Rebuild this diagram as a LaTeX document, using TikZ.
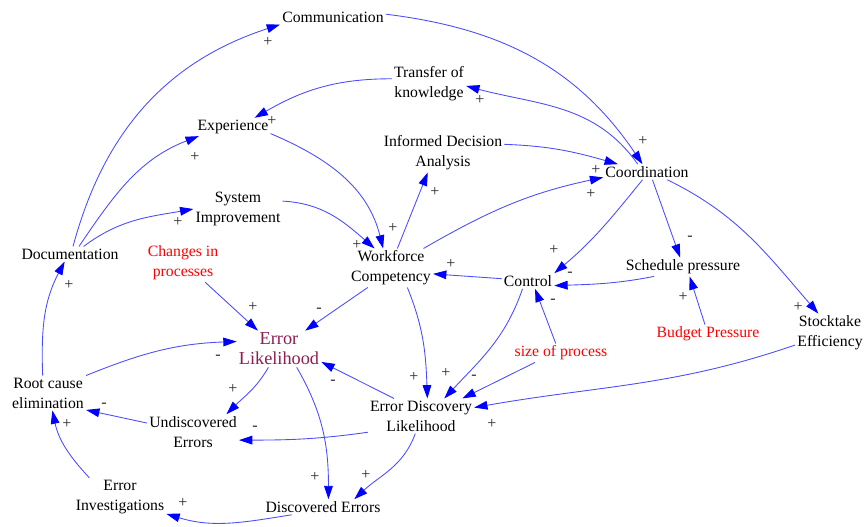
\documentclass[tikz,border=0pt]{standalone}
\usepackage{fontspec}
\setmainfont{Liberation Serif}
\usetikzlibrary{arrows.meta}
\definecolor{lineblue}{RGB}{75,75,255}
\definecolor{tipblue}{RGB}{0,0,255}
\definecolor{elcol}{RGB}{140,30,80}
\definecolor{signcol}{RGB}{40,40,40}
\begin{document}
\begin{tikzpicture}[x=0.75pt,y=0.75pt,
  var/.style={font=\fontsize{11.8}{15}\selectfont, align=center, inner sep=1.5pt},
  exo/.style={var, text=red},
  sgn/.style={font=\fontsize{12}{14}\selectfont, text=signcol, inner sep=0pt},
  lnk/.style={draw=lineblue, line width=0.65pt, -{Triangle[length=10pt,width=6.5pt,color=tipblue]}},
]
\useasboundingbox (0,0) rectangle (866,527);

% variables
\node[var] (comm) at (333,510) {Communication};
\node[var] (transfer) at (429,443) {Transfer of\\knowledge};
\node[var] (exper) at (233,400) {Experience};
\node[var] (informed) at (443,374) {Informed Decision\\Analysis};
\node[var] (coord) at (647,355) {Coordination};
\node[var] (sysimp) at (238,318) {System\\Improvement};
\node[var] (doc) at (70,273) {Documentation};
\node[exo] (changes) at (183,264) {Changes in\\processes};
\node[var] (work) at (391,259) {Workforce\\Competency};
\node[var] (control) at (528,246) {Control};
\node[var] (sched) at (683,260) {Schedule pressure};
\node[var, text=elcol, font=\fontsize{13.7}{15}\selectfont] (errlik) at (279,178) {Error\\Likelihood};
\node[var] (root) at (48,134) {Root cause\\elimination};
\node[var] (undisc) at (193,95) {Undiscovered\\Errors};
\node[var] (edl) at (421,111) {Error Discovery\\Likelihood};
\node[exo] (size) at (561,174) {size of process};
\node[exo] (budget) at (708,193) {Budget Pressure};
\node[var] (stock) at (830,194) {Stocktake\\Efficiency};
\node[var] (errinv) at (120,30) {Error\\Investigations};
\node[var] (discerr) at (323,20) {Discovered Errors};

% links
\draw[lnk] (doc.68) to[out=75,in=198] (comm.south west);
\draw[lnk] (doc.40) to[out=56,in=201] (exper.195);
\draw[lnk] (doc.29) to[out=37,in=190] (sysimp.west);
\draw[lnk] (comm.3) to[out=-7,in=124] (coord.120);
\draw[lnk] (coord.140) to[out=125,in=-15] (transfer.-3);
\draw[lnk] (transfer.172) to[out=180,in=30] (exper.23);
\draw[lnk] (exper.-10) to[out=-23,in=104] (work.112);
\draw[lnk] (sysimp.10) to[out=-3,in=139] (work.130);
\draw[lnk] (work.72) -- (informed.232);
\draw[lnk] (informed.8) to[out=-2,in=164] (coord.165);
\draw[lnk] (work.31) to[out=30,in=192] (coord.187);
\draw[lnk] (coord.240) to[out=-129,in=40] (control.north east);
\draw[lnk] (coord.-55) -- (sched.107);
\draw[lnk] (coord.-21) to[out=-26,in=131] (stock.121);
\draw[lnk] (sched.198) to[out=191,in=2] (control.-10);
\draw[lnk] (control.175) -- (work.-8);
\draw[lnk] (budget.108) -- (sched.-55);
\draw[lnk] (size.119) -- (control.-48);
\draw[lnk] (control.235) to[out=-109,in=47] (edl.37);
\draw[lnk] (size.200) -- (edl.23);
\draw[lnk] (work.-50) to[out=-68,in=92] (edl.70);
\draw[lnk] (stock.199) to[out=199,in=10] (edl.9);
\draw[lnk] (work.220) -- (errlik.35);
\draw[lnk] (changes.-41) -- (errlik.139);
\draw[lnk] (root.north east) to[out=22,in=182] (errlik.170);
\draw[lnk] (edl.147) -- (errlik.-17);
\draw[lnk] (errlik.240) to[out=240,in=45] (undisc.28);
\draw[lnk] (errlik.-46) to[out=-60,in=90] (discerr.55);
\draw[lnk] (edl.197) to[out=188,in=0] (undisc.-10);
\draw[lnk] (edl.252) to[out=-110,in=43] (discerr.14);
\draw[lnk] (undisc.169) -- (root.-24);
\draw[lnk] (errinv.148) to[out=133,in=-78] (root.-76);
\draw[lnk] (discerr.194) to[out=189,in=-17] (errinv.-20);
\draw[lnk] (root.107) to[out=92,in=242] (doc.235);

% polarity signs
\node[sgn] (s1) at (268,485) {+};
\node[sgn] (s2) at (195,370) {+};
\node[sgn] (s3) at (178,305) {+};
\node[sgn] (s4) at (643,386) {+};
\node[sgn] (s5) at (480,427) {+};
\node[sgn] (s6) at (272,406) {+};
\node[sgn] (s7) at (393,299) {+};
\node[sgn] (s8) at (357,282) {+};
\node[sgn] (s9) at (435,335) {+};
\node[sgn] (s10) at (596,357) {+};
\node[sgn] (s11) at (591,333) {+};
\node[sgn] (s12) at (554,277) {+};
\node[sgn] (s13) at (690,289) {-};
\node[sgn] (s14) at (798,220) {+};
\node[sgn] (s15) at (570,253) {-};
\node[sgn] (s16) at (451,263) {+};
\node[sgn] (s17) at (683,230) {+};
\node[sgn] (s18) at (553,226) {-};
\node[sgn] (s19) at (446,154) {+};
\node[sgn] (s20) at (474,150) {-};
\node[sgn] (s21) at (414,150) {+};
\node[sgn] (s22) at (492,103) {+};
\node[sgn] (s23) at (319,217) {-};
\node[sgn] (s24) at (253,220) {+};
\node[sgn] (s25) at (218,170) {-};
\node[sgn] (s26) at (333,145) {-};
\node[sgn] (s27) at (233,138) {+};
\node[sgn] (s28) at (315,50) {+};
\node[sgn] (s29) at (255,99) {-};
\node[sgn] (s30) at (366,52) {+};
\node[sgn] (s31) at (104,122) {-};
\node[sgn] (s32) at (67,103) {+};
\node[sgn] (s33) at (183,24) {+};
\node[sgn] (s34) at (69,242) {+};
\end{tikzpicture}
\end{document}
